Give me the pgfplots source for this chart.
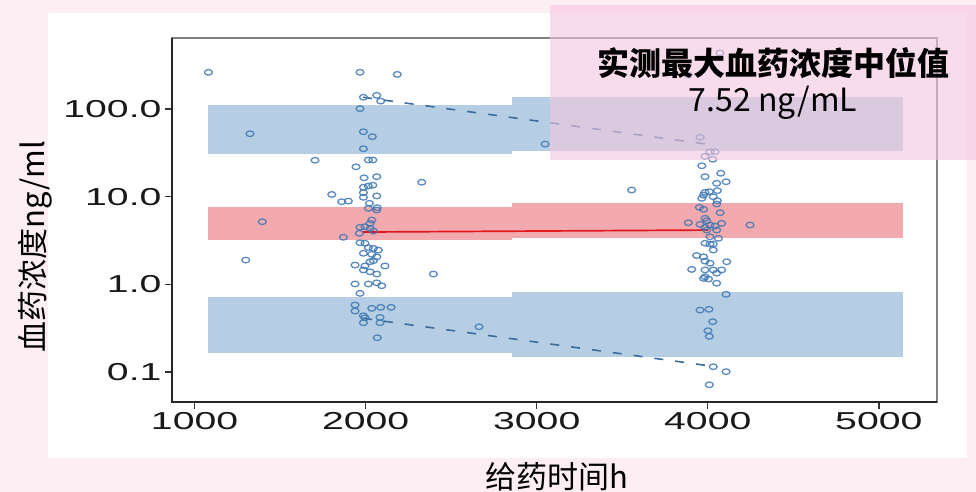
\documentclass[border=0pt]{standalone}
\usepackage{pgfplots}
\pgfplotsset{compat=1.18}
\usepackage{fontspec}
\newfontfamily\tickfont[FakeStretch=1.6]{Liberation Sans}
\newfontfamily\cjk{Noto Sans CJK SC}
\definecolor{bgpink}{RGB}{253,238,244}
\definecolor{annpink}{RGB}{245,198,223}
\definecolor{bandblue}{RGB}{182,206,227}
\definecolor{bandred}{RGB}{242,170,174}
\definecolor{redline}{RGB}{224,25,31}
\definecolor{ptblue}{RGB}{63,120,180}
\definecolor{dashblue}{RGB}{59,108,158}
\pgfplotstableread{
x y
1967 262
2185 248
1081 262
1987 136
2065 143
2088 123
1967 101
1987 55
2039 48.3
1987 35.2
2016 26.2
2042 26.2
1944 21.9
1991 16.4
2065 16.9
2328 14.6
1987 12.8
2016 13.2
2042 13.5
1987 11.1
1802 10.6
2065 10.2
1987 9.83
1324 52.2
1704 26.0
1860 8.75
1899 8.91
1396 5.18
1870 3.44
2022 8.39
2068 7.48
2065 7.04
2016 7.36
2036 5.41
2026 4.96
1967 4.47
1996 4.54
2026 4.35
2045 4.05
1963 3.82
1967 2.98
1996 2.94
2016 2.62
2045 2.57
2074 2.46
1987 2.26
2036 2.20
2065 2.06
2026 1.81
2045 1.86
1938 1.66
1996 1.62
2113 1.62
1987 1.46
2026 1.39
2065 1.31
1938 1.01
2016 1.01
2065 1.04
2094 0.964
1967 0.789
1938 0.581
1938 0.496
2036 0.532
2088 0.547
2149 0.547
1987 0.438
1996 0.416
1987 0.365
2084 0.420
2084 0.365
2068 0.246
1299 1.89
2396 1.31
2663 0.328
3049 39.8
3555 11.9
3955 47.5
4013 32.5
4042 32.5
3984 28.8
4029 26.7
3965 22.5
4076 18.5
3984 16.9
4052 14.2
4107 14.8
4056 11.7
3984 11.2
4009 11.4
3975 10.4
3965 9.57
4032 9.98
4056 8.99
4052 8.24
3951 7.55
3975 7.17
4072 6.56
3984 5.66
3994 5.31
3886 5.04
3955 4.83
4013 4.75
4042 4.62
4081 4.96
3984 4.47
3994 4.16
4052 4.16
4247 4.75
4013 3.49
4062 3.35
3984 2.94
4013 2.88
4032 2.88
4032 2.46
3935 2.13
3975 2.06
3984 1.84
4013 1.74
4111 1.81
3906 1.48
3984 1.46
4032 1.46
4081 1.46
4052 1.34
3984 1.22
4004 1.15
3975 1.17
4052 1.03
4107 0.769
3955 0.509
4007 0.519
4029 0.375
4001 0.296
4009 0.255
4032 0.115
4107 0.101
4009 0.0716
3885 244
4071 435
}\obs
\begin{document}
\begin{tikzpicture}[x=1pt,y=1pt]
\fill[bgpink] (0,0) rectangle (976,492);
\fill[white] (48,34) rectangle (967,479);
\useasboundingbox (0,0) rectangle (976,492);
\begin{axis}[at={(172pt,90pt)}, anchor=south west, scale only axis,
  width=765pt, height=364pt,
  xmin=868, xmax=5340, ymode=log, ymin=0.0455, ymax=645,
  xtick={1000,2000,3000,4000,5000}, xticklabels={1000,2000,3000,4000,5000},
  ytick={0.1,1,10,100}, yticklabels={0.1,1.0,10.0,100.0},
  xtick pos=bottom, ytick pos=left, yminorticks=false,
  tick align=outside, major tick length=7pt,
  tick style={black!80, line width=1.3pt},
  axis line style={draw=black!50, line width=1.5pt},
  ticklabel style={font=\tickfont\fontsize{24.5}{24.5}\selectfont, text=black!90},
  clip=false]
% prediction interval bands
\addplot[fill=bandblue, draw=none] coordinates {(1081,30.4) (2858,30.4) (2858,110) (1081,110)} -- cycle;
\addplot[fill=bandblue, draw=none] coordinates {(2858,33.4) (5141,33.4) (5141,138) (2858,138)} -- cycle;
\addplot[fill=bandred, draw=none] coordinates {(1081,3.20) (2858,3.20) (2858,7.55) (1081,7.55)} -- cycle;
\addplot[fill=bandred, draw=none] coordinates {(2858,3.35) (5141,3.35) (5141,8.39) (2858,8.39)} -- cycle;
\addplot[fill=bandblue, draw=none] coordinates {(1081,0.163) (2858,0.163) (2858,0.722) (1081,0.722)} -- cycle;
\addplot[fill=bandblue, draw=none] coordinates {(2858,0.149) (5141,0.149) (5141,0.824) (2858,0.824)} -- cycle;
% observed percentiles
\addplot[redline, line width=1.7pt] coordinates {(1985,3.95) (4003,4.16)};
\addplot[dashblue, line width=1.6pt, dash pattern=on 9pt off 12pt] coordinates {(1985,136) (4003,39.5)};
\addplot[dashblue, line width=1.6pt, dash pattern=on 9pt off 12pt] coordinates {(1985,0.41) (4003,0.118)};
% observations
\addplot[only marks, mark=o, mark size=2.8pt, mark options={xscale=1.4, draw=ptblue, line width=1.3pt, draw opacity=0.85}] table[x=x,y=y] {\obs};
\draw[black!85, line width=2.2pt] (rel axis cs:0,1) -- (rel axis cs:0,0) -- (rel axis cs:1,0);
\end{axis}
\fill[annpink, opacity=0.6] (550,332) rectangle (976,487);
\node[anchor=base, inner sep=0pt, font=\cjk\bfseries\fontsize{32}{32}\selectfont] at (773,416) {实测最大血药浓度中位值};
\node[anchor=base, inner sep=0pt, font=\cjk\fontsize{32}{32}\selectfont] at (773,380.5) {7.52 ng/mL};
\node[anchor=base, inner sep=0pt, font=\cjk\fontsize{31}{31}\selectfont] at (557,4) {给药时间h};
\node[anchor=base, inner sep=0pt, rotate=90, font=\cjk\fontsize{31}{31}\selectfont] at (44,245.5) {血药浓度ng/ml};
\end{tikzpicture}
\end{document}
